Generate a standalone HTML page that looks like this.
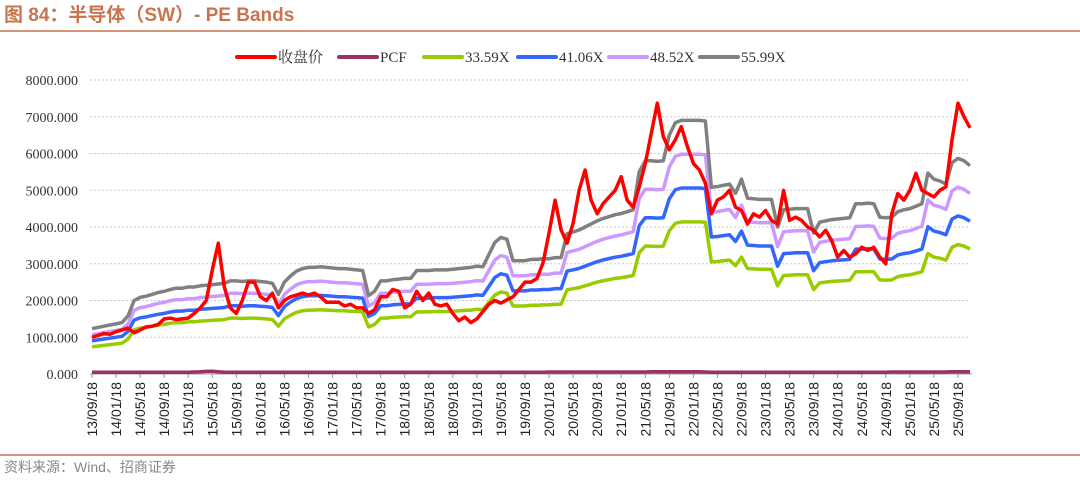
<!DOCTYPE html>
<html><head><meta charset="utf-8"><style>
html,body{margin:0;padding:0;background:#fff;width:1080px;height:480px;overflow:hidden}
svg{display:block}
</style></head><body>
<svg id="chart" width="1080" height="480" xmlns="http://www.w3.org/2000/svg">
<text x="4" y="21" font-family="'Liberation Sans','Noto Sans CJK SC',sans-serif" font-size="19" font-weight="bold" fill="#C8744E">图 84：半导体（SW）- PE Bands</text>
<line x1="0" y1="31" x2="1080" y2="31" stroke="#C8744E" stroke-width="1.5"/>
<line x1="0" y1="455" x2="1080" y2="455" stroke="#C8744E" stroke-width="1.5"/>
<text x="4" y="472" font-family="'Liberation Sans','Noto Sans CJK SC',sans-serif" font-size="14" fill="#888">资料来源：Wind、招商证券</text>
<g id="grid"></g><g id="yaxis"></g><g id="xaxis"></g><g id="series"></g><g id="legend"></g>
</svg>
<script>
const yTicks=[0,1000,2000,3000,4000,5000,6000,7000,8000];
const dateLabels=["13/09/18","14/01/18","14/05/18","14/09/18","15/01/18","15/05/18","15/09/18","16/01/18","16/05/18","16/09/18","17/01/18","17/05/18","17/09/18","18/01/18","18/05/18","18/09/18","19/01/18","19/05/18","19/09/18","20/01/18","20/05/18","20/09/18","21/01/18","21/05/18","21/09/18","22/01/18","22/05/18","22/09/18","23/01/18","23/05/18","23/09/18","24/01/18","24/05/18","24/09/18","25/01/18","25/05/18","25/09/18"];
const seriesNames=["收盘价","PCF","33.59X","41.06X","48.52X","55.99X"];
const multiples=[33.59,41.06,48.52,55.99];
// monthly close, Sep 2013 .. Nov 2025
const closePrice=[1000,1050,1100,1080,1150,1200,1250,1120,1200,1280,1300,1350,1500,1520,1480,1500,1520,1650,1800,2000,2830,3560,2370,1800,1650,2000,2500,2500,2100,2000,2200,1800,2000,2100,2150,2200,2150,2200,2100,1950,1950,1950,1850,1900,1800,1800,1650,1750,2100,2100,2300,2250,1800,1900,2250,2000,2200,1900,1850,1900,1650,1450,1550,1400,1500,1700,1900,2000,1930,2020,2100,2300,2500,2500,2600,3020,3830,4730,3920,3560,4100,5000,5550,4730,4360,4640,4820,5000,5370,4730,4540,5090,5730,6550,7370,6460,6100,6370,6730,6190,5730,5550,5190,4360,4730,4820,5000,4540,4450,4080,4360,4270,4450,4180,4080,5000,4180,4270,4180,4000,3910,3730,3910,3630,3180,3360,3180,3270,3450,3360,3450,3180,3000,4360,4910,4730,5000,5460,5000,4910,4820,5000,5090,6370,7370,7000,6700];
// 33.59X band (EPS * 33.59)
const band3359=[740,760,780,800,820,840,950,1200,1250,1270,1300,1330,1350,1380,1400,1400,1420,1420,1440,1450,1460,1470,1480,1520,1520,1510,1520,1520,1510,1500,1480,1300,1500,1600,1680,1720,1740,1740,1750,1740,1730,1720,1720,1710,1700,1690,1280,1350,1520,1520,1540,1550,1560,1560,1690,1690,1690,1700,1700,1700,1710,1720,1730,1740,1760,1750,1950,2150,2230,2200,1850,1850,1850,1870,1870,1880,1880,1900,1900,2290,2320,2350,2400,2450,2500,2540,2570,2600,2620,2650,2680,3300,3480,3480,3470,3480,3900,4100,4140,4140,4140,4140,4130,3050,3060,3080,3100,2950,3180,2870,2860,2850,2850,2850,2400,2680,2690,2700,2700,2700,2300,2480,2500,2520,2530,2540,2550,2780,2780,2790,2780,2560,2550,2560,2650,2680,2700,2740,2780,3280,3180,3150,3100,3450,3520,3480,3400];
const pcf=[45,45,45,45,45,45,50,50,50,50,50,50,50,50,50,50,50,55,60,70,75,60,50,50,50,50,50,50,50,50,50,50,50,50,50,50,50,50,50,50,50,50,50,50,50,50,50,50,50,50,50,50,50,50,50,50,50,50,50,50,50,50,50,50,50,50,50,50,50,50,50,50,50,50,50,50,55,55,55,55,55,55,55,55,55,55,55,55,55,55,55,55,55,60,60,60,60,60,60,60,60,60,55,50,50,50,50,50,50,50,50,50,50,50,50,50,50,50,50,50,50,50,50,50,50,50,50,50,50,50,50,50,50,55,55,55,55,55,55,55,55,55,55,60,60,60,60];
const colors=["#FF0000","#993366","#99CC00","#3366FF","#CC99FF","#808080"];

const NS="http://www.w3.org/2000/svg";
const X0=92, X1=970, Y0=374, Y8=80;
const nPts=closePrice.length;
const xs=m=>X0+m*(X1-X0)/(nPts-1);
const ys=v=>Y0-(v/8000)*(Y0-Y8);
function mk(tag,parent,attrs){const e=document.createElementNS(NS,tag);for(const k in attrs)e.setAttribute(k,attrs[k]);parent.appendChild(e);return e;}

const grid=document.getElementById('grid'),yax=document.getElementById('yaxis'),xax=document.getElementById('xaxis');
yTicks.forEach(t=>{
  if(t>0){const g=mk('line',grid,{x1:90,x2:970,y1:ys(t),y2:ys(t),stroke:'#c8c8d0','stroke-width':1,'stroke-dasharray':'2,2'});
  
  }
  const l=mk('text',yax,{x:78,y:ys(t)+5,'text-anchor':'end','font-family':"'Liberation Serif',serif",'font-size':14,fill:'#333'});
  l.textContent=t.toFixed(3);
  
  
});
const axl=mk('line',xax,{x1:90,x2:972,y1:Y0,y2:Y0,stroke:'#999','stroke-width':1});


dateLabels.forEach((d,i)=>{
  const x=xs(i*4);
  const tk=mk('line',xax,{x1:x,x2:x,y1:Y0,y2:Y0+4,stroke:'#999'});
  
  
  const t=mk('text',xax,{transform:`translate(${x+5},382) rotate(-90)`,'text-anchor':'end','font-family':"'Liberation Sans',sans-serif",'font-size':14,fill:'#222'});
  t.textContent=d;
  
  
});

const ser=document.getElementById('series');
function line(vals,color,name,w){
  const p=mk('polyline',ser,{points:vals.map((v,i)=>xs(i).toFixed(1)+','+ys(v).toFixed(1)).join(' '),fill:'none',stroke:color,'stroke-width':w,'stroke-linejoin':'round'});
  
  
}
line(pcf,colors[1],'pcf-line',3.5);
const bandNames=['band-33-59x','band-41-06x','band-48-52x','band-55-99x'];
multiples.forEach((m,k)=>{line(band3359.map(v=>v*m/multiples[0]),colors[k+2],bandNames[k],3.5);});
line(closePrice,colors[0],'close-price-line',3.5);

const leg=document.getElementById('legend');
const legX=[237,339,424,518,609,700];
seriesNames.forEach((n,i)=>{
  const g=mk('g',leg,{});
  
  
  mk('line',g,{x1:legX[i],x2:legX[i]+38,y1:57,y2:57,stroke:colors[i],'stroke-width':4,'stroke-linecap':'round'});
  const t=mk('text',g,{x:legX[i]+41,y:62,'font-family':"'Liberation Serif','Noto Serif CJK SC',serif",'font-size':15,fill:'#333'});
  t.textContent=n;
});
</script>
</body></html>
